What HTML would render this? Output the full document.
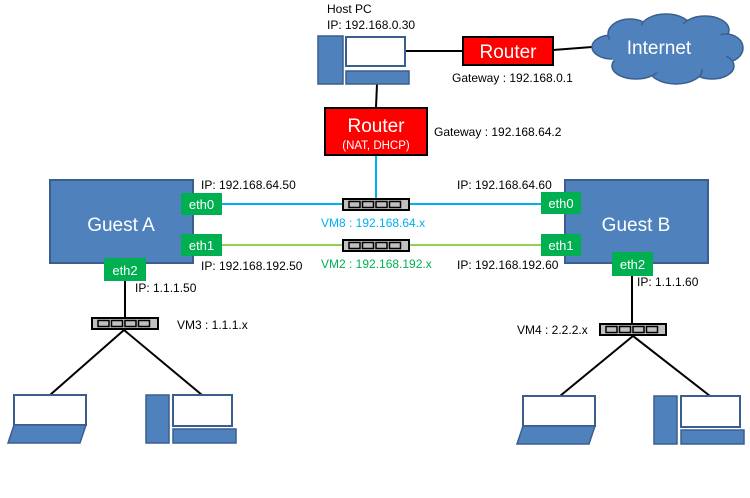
<!DOCTYPE html>
<html><head><meta charset="utf-8"><style>
html,body{margin:0;padding:0;background:#fff;}
svg text{font-family:"Liberation Sans","Noto Sans CJK KR",sans-serif;}
</style></head><body>
<svg width="750" height="493" viewBox="0 0 750 493" xmlns="http://www.w3.org/2000/svg">
<defs>
<g id="sw">
<rect x="0" y="0" width="66" height="11" fill="#c0c0c0" stroke="#000" stroke-width="2"/>
<rect x="6" y="2.5" width="11" height="6" fill="#c0c0c0" stroke="#000" stroke-width="1.5"/>
<rect x="19.5" y="2.5" width="11" height="6" fill="#c0c0c0" stroke="#000" stroke-width="1.5"/>
<rect x="33" y="2.5" width="11" height="6" fill="#c0c0c0" stroke="#000" stroke-width="1.5"/>
<rect x="46.5" y="2.5" width="11" height="6" fill="#c0c0c0" stroke="#000" stroke-width="1.5"/>
</g>
<g id="laptop">
<rect x="6" y="0" width="72" height="30" fill="#fff" stroke="#3a5f8f" stroke-width="2"/>
<polygon points="6,30 78,30 72,48 0,48" fill="#4f81bd" stroke="#3a5f8f" stroke-width="1.5"/>
</g>
<g id="desk">
<rect x="0" y="0" width="23" height="48" fill="#4f81bd" stroke="#3a5f8f" stroke-width="1.5"/>
<rect x="27" y="0" width="59" height="31" fill="#fff" stroke="#3a5f8f" stroke-width="2"/>
<rect x="27" y="34" width="63" height="14" fill="#4f81bd" stroke="#3a5f8f" stroke-width="1.5"/>
</g>
</defs>

<line x1="405" y1="51" x2="462" y2="51" stroke="#000" stroke-width="2"/>
<line x1="553" y1="50" x2="592" y2="47" stroke="#000" stroke-width="2"/>
<line x1="377" y1="84" x2="376" y2="107" stroke="#000" stroke-width="2"/>
<line x1="376" y1="155" x2="376" y2="199" stroke="#00b0f0" stroke-width="2"/>
<line x1="222" y1="204" x2="541" y2="204" stroke="#00b0f0" stroke-width="2"/>
<line x1="222" y1="245" x2="541" y2="245" stroke="#92d050" stroke-width="2"/>
<line x1="125" y1="281" x2="125" y2="318" stroke="#000" stroke-width="2"/>
<line x1="632" y1="276" x2="632" y2="324" stroke="#000" stroke-width="2"/>
<line x1="124" y1="330" x2="50" y2="395" stroke="#000" stroke-width="2"/>
<line x1="124" y1="330" x2="202" y2="395" stroke="#000" stroke-width="2"/>
<line x1="633" y1="336" x2="560" y2="396" stroke="#000" stroke-width="2"/>
<line x1="633" y1="336" x2="710" y2="396" stroke="#000" stroke-width="2"/>

<text x="327" y="13" font-size="12">Host PC</text>
<text x="327" y="29" font-size="12">IP: 192.168.0.30</text>
<rect x="318" y="36" width="25" height="48" fill="#4f81bd" stroke="#3a5f8f" stroke-width="1.5"/>
<rect x="346" y="37" width="59" height="29" fill="#fff" stroke="#3a5f8f" stroke-width="2"/>
<rect x="346" y="71" width="63" height="13" fill="#4f81bd" stroke="#3a5f8f" stroke-width="1.5"/>

<rect x="463" y="37" width="90" height="28" fill="#ff0000" stroke="#000" stroke-width="2"/>
<text x="508" y="58" font-size="19" fill="#fff" text-anchor="middle">Router</text>
<text x="452" y="82" font-size="12">Gateway :  192.168.0.1</text>

<g fill="#4f81bd" stroke="#3a5f8f" stroke-width="1.5">
<ellipse cx="612" cy="47" rx="20" ry="12"/>
<ellipse cx="630" cy="34" rx="22" ry="15"/>
<ellipse cx="666" cy="28" rx="25" ry="14"/>
<ellipse cx="705" cy="30" rx="24" ry="14"/>
<ellipse cx="726" cy="48" rx="17" ry="14"/>
<ellipse cx="712" cy="66" rx="22" ry="13"/>
<ellipse cx="676" cy="70" rx="26" ry="14"/>
<ellipse cx="636" cy="66" rx="24" ry="13"/>
</g>
<ellipse cx="668" cy="48" rx="62" ry="25" fill="#4f81bd"/>
<text x="659" y="54" font-size="19" fill="#fff" text-anchor="middle">Internet</text>

<rect x="325" y="108" width="102" height="47" fill="#ff0000" stroke="#000" stroke-width="2"/>
<text x="376" y="132" font-size="19" fill="#fff" text-anchor="middle">Router</text>
<text x="376" y="149" font-size="11.5" fill="#fff" text-anchor="middle">(NAT, DHCP)</text>
<text x="434" y="136" font-size="12">Gateway :  192.168.64.2</text>

<rect x="50" y="180" width="143" height="83" fill="#4f81bd" stroke="#3a5f8f" stroke-width="2"/>
<text x="121" y="231" font-size="19" fill="#fff" text-anchor="middle">Guest A</text>
<rect x="181" y="193" width="41" height="22" fill="#00b050"/>
<text x="201.5" y="209" font-size="13" fill="#fff" text-anchor="middle">eth0</text>
<rect x="181" y="234" width="41" height="22" fill="#00b050"/>
<text x="201.5" y="250" font-size="13" fill="#fff" text-anchor="middle">eth1</text>
<rect x="104" y="258" width="42" height="23" fill="#00b050"/>
<text x="125" y="275" font-size="13" fill="#fff" text-anchor="middle">eth2</text>
<text x="201" y="189" font-size="12">IP: 192.168.64.50</text>
<text x="201" y="270" font-size="12">IP: 192.168.192.50</text>
<text x="135" y="292" font-size="12">IP: 1.1.1.50</text>

<rect x="565" y="180" width="143" height="83" fill="#4f81bd" stroke="#3a5f8f" stroke-width="2"/>
<text x="636" y="231" font-size="19" fill="#fff" text-anchor="middle">Guest B</text>
<rect x="541" y="192" width="40" height="22" fill="#00b050"/>
<text x="561" y="208" font-size="13" fill="#fff" text-anchor="middle">eth0</text>
<rect x="541" y="234" width="40" height="22" fill="#00b050"/>
<text x="561" y="250" font-size="13" fill="#fff" text-anchor="middle">eth1</text>
<rect x="612" y="252" width="41" height="24" fill="#00b050"/>
<text x="632.5" y="269" font-size="13" fill="#fff" text-anchor="middle">eth2</text>
<text x="457" y="189" font-size="12">IP: 192.168.64.60</text>
<text x="457" y="269" font-size="12">IP: 192.168.192.60</text>
<text x="637" y="286" font-size="12">IP: 1.1.1.60</text>

<use href="#sw" x="343" y="199"/>
<use href="#sw" x="343" y="240"/>
<use href="#sw" x="92" y="318"/>
<use href="#sw" x="600" y="324"/>
<text x="321" y="227" font-size="12" fill="#00b0f0">VM8 : 192.168.64.x</text>
<text x="321" y="268" font-size="12" fill="#00b050">VM2 : 192.168.192.x</text>
<text x="177" y="329" font-size="12">VM3 : 1.1.1.x</text>
<text x="517" y="334" font-size="12">VM4 : 2.2.2.x</text>

<use href="#laptop" x="8" y="395"/>
<use href="#desk" x="146" y="395"/>
<use href="#laptop" x="517" y="396"/>
<use href="#desk" x="654" y="396"/>
</svg>
</body></html>
